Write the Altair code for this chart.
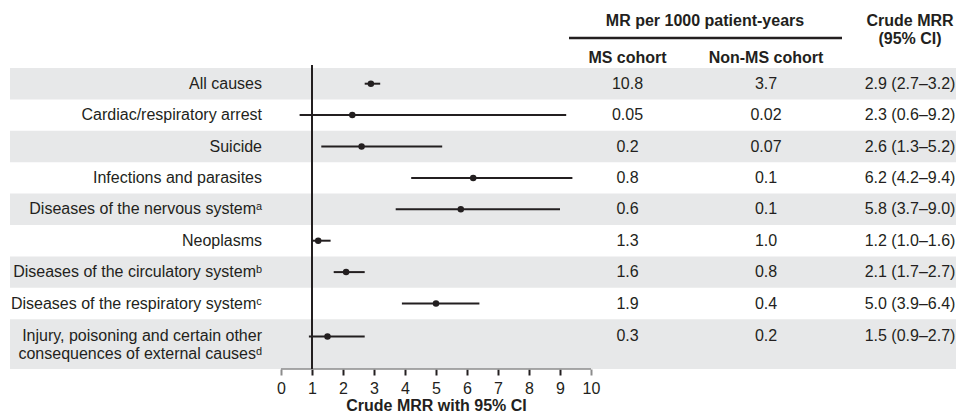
import altair as alt
import pandas as pd

# ---------------- data ----------------
causes = [
    "All causes",
    "Cardiac/respiratory arrest",
    "Suicide",
    "Infections and parasites",
    "Diseases of the nervous system\u1d43",
    "Neoplasms",
    "Diseases of the circulatory system\u1d47",
    "Diseases of the respiratory system\u1d9c",
    "Injury, poisoning and certain other\nconsequences of external causes\u1d48",
]
mrr = [2.9, 2.3, 2.6, 6.2, 5.8, 1.2, 2.1, 5.0, 1.5]
ci_low = [2.7, 0.6, 1.3, 4.2, 3.7, 1.0, 1.7, 3.9, 0.9]
ci_high = [3.2, 9.2, 5.2, 9.4, 9.0, 1.6, 2.7, 6.4, 2.7]
ms_rate = ["10.8", "0.05", "0.2", "0.8", "0.6", "1.3", "1.6", "1.9", "0.3"]
nonms_rate = ["3.7", "0.02", "0.07", "0.1", "0.1", "1.0", "0.8", "0.4", "0.2"]
x_ticks = list(range(0, 11))

# ---------------- style / layout ----------------
FONT = "Liberation Sans, Arial, Helvetica, sans-serif"
INK = "#231f20"
BAND = "#e7e8e9"
GREY = "#8c8c8c"
FS = 16

W, H = 948, 409
ROW_PX = 31.4
LINE_PX = 18
TOP_PX = 60          # top of first row band (chart coords)
X0_PX = 273          # position of x = 0
UNIT_PX = 31         # px per MRR unit

rows = []
top = 0.0
for i, (c, m, lo, hi, a, b) in enumerate(zip(causes, mrr, ci_low, ci_high, ms_rate, nonms_rate)):
    n = c.count("\n") + 1
    h = 1 + (n - 1) * 0.586
    yc = top + (0.5 if n == 1 else 0.55)
    rows.append(dict(idx=i, cause=c, mrr=m, lo=lo, hi=hi, ms=a, nonms=b,
                     crude=f"{m:.1f} ({lo:.1f}\u2013{hi:.1f})",
                     top=top, bottom=top + h, yc=yc))
    top += h
df = pd.DataFrame(rows)
axis_units = top
axis_px = TOP_PX + axis_units * ROW_PX

xscale = alt.Scale(domain=[-X0_PX / UNIT_PX, (W - X0_PX) / UNIT_PX], nice=False, zero=False)
yscale = alt.Scale(domain=[-TOP_PX / ROW_PX, (H - TOP_PX) / ROW_PX], nice=False, zero=False, reverse=True)

xaxis = alt.Axis(
    values=x_ticks, domain=False, grid=False, tickSize=6, tickWidth=2,
    tickColor={"expr": f"datum.value == 0 || datum.value == 10 ? '{GREY}' : '{INK}'"},
    labelFont=FONT, labelFontSize=FS, labelColor=INK, labelPadding=5, labelFlush=False,
    title="Crude MRR with 95% CI", titleFont=FONT, titleFontSize=FS, titleFontWeight="bold",
    titleColor=INK, titleX=X0_PX + 5 * UNIT_PX, titleY=41, titleAlign="center",
    titleBaseline="alphabetic", offset=-(H - axis_px),
)


def xenc(field):
    return alt.X(field, type="quantitative", scale=xscale, axis=xaxis)


def yenc(field):
    return alt.Y(field, type="quantitative", scale=yscale, axis=None)


base = alt.Chart(df)

bands = base.mark_rect(color=BAND).encode(
    x=alt.value(2), x2=alt.value(W), y=yenc("top"), y2="bottom"
).transform_filter("datum.idx % 2 == 0")

axis_line = alt.Chart(pd.DataFrame({"a": [x_ticks[0]], "b": [x_ticks[-1]]})).mark_rule(
    color=GREY, strokeWidth=1.5
).encode(x=xenc("a"), x2="b", y=alt.value(axis_px))

ref_line = alt.Chart(pd.DataFrame({"ref": [1]})).mark_rule(color=INK, strokeWidth=2).encode(
    x=xenc("ref"), y=alt.value(TOP_PX - 3), y2=alt.value(axis_px)
)

whiskers = base.mark_rule(color=INK, strokeWidth=2).encode(x=xenc("lo"), x2="hi", y=yenc("yc"))
points = base.mark_circle(color=INK, size=42, opacity=1).encode(x=xenc("mrr"), y=yenc("yc"))

txt = dict(font=FONT, fontSize=FS, color=INK, baseline="middle")
labels = base.mark_text(align="right", lineBreak="\n", lineHeight=LINE_PX, **txt).encode(
    x=alt.value(254), y=yenc("yc"), text="cause")
col_ms = base.mark_text(align="center", **txt).encode(x=alt.value(619.5), y=yenc("yc"), text="ms")
col_non = base.mark_text(align="center", **txt).encode(x=alt.value(758), y=yenc("yc"), text="nonms")
col_crude = base.mark_text(align="center", **txt).encode(x=alt.value(902), y=yenc("yc"), text="crude")

one = alt.Data(values=[{}])
hdr = dict(font=FONT, fontSize=FS, color=INK, fontWeight="bold", baseline="middle", align="center")


def header(text, x, y):
    return alt.Chart(one).mark_text(**hdr).encode(x=alt.value(x), y=alt.value(y), text=alt.value(text))


underline = alt.Chart(one).mark_rule(color=INK, strokeWidth=2.5).encode(
    x=alt.value(561), x2=alt.value(834), y=alt.value(30))

chart = alt.layer(
    bands, axis_line, ref_line, whiskers, points,
    labels, col_ms, col_non, col_crude,
    header("MR per 1000 patient-years", 697, 13),
    underline,
    header("MS cohort", 619.5, 50),
    header("Non-MS cohort", 758, 50),
    header("Crude MRR", 902, 13),
    header("(95% CI)", 902, 31),
).properties(
    width=W, height=H, autosize="none", padding=0, background="white"
).configure_view(stroke=None)

chart.save("out.html", embed_options={"renderer": "svg", "actions": False})
